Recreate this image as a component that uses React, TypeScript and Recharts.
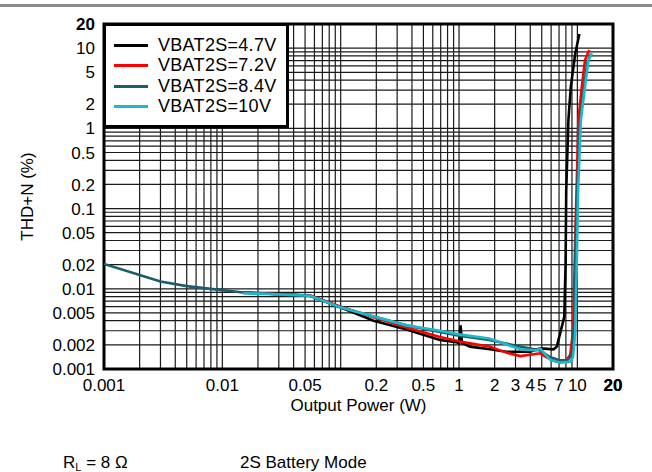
import React from 'react';
import { LineChart, Line, XAxis, YAxis, CartesianGrid, Legend, ReferenceArea } from 'recharts';

const FONT = '"Liberation Sans", Arial, Helvetica, sans-serif';

const seriesNames = ['VBAT2S=4.7V', 'VBAT2S=7.2V', 'VBAT2S=8.4V', 'VBAT2S=10V'];
const seriesColors = ['#000000', '#ff0000', '#1b5d6d', '#1bb9cc'];

// VBAT2S = 4.7 V
const power47 = [0.015, 0.055, 0.099, 0.19, 0.36, 0.69, 0.95, 1.0, 1.03, 1.06, 1.24, 1.83, 2.5, 4.0, 4.85, 6.3, 6.7, 7.4, 7.75, 7.95, 8.05, 8.4, 8.8, 9.6, 10.4];
const thd47 = [0.009, 0.0082, 0.0059, 0.004, 0.0031, 0.0023, 0.00215, 0.0021, 0.0035, 0.0021, 0.0019, 0.00176, 0.00164, 0.00164, 0.00181, 0.00176, 0.0019, 0.0034, 0.0045, 0.02, 0.17, 1.27, 3.3, 8.6, 15];

// VBAT2S = 7.2 V
const power72 = [0.015, 0.055, 0.099, 0.19, 0.36, 0.69, 1.02, 1.83, 2.5, 3.3, 4.85, 5.5, 6.7, 7.9, 8.7, 9.2, 9.4, 9.6, 9.8, 10.2, 10.9, 11.6, 12.6];
const thd72 = [0.0089, 0.0083, 0.006, 0.0044, 0.0033, 0.0025, 0.0022, 0.0019, 0.0016, 0.00145, 0.00157, 0.0014, 0.00123, 0.00123, 0.0015, 0.003, 0.01, 0.05, 0.13, 1.27, 3.3, 7.1, 9.5];

// VBAT2S = 8.4 V
const power84 = [0.001, 0.002, 0.003, 0.005, 0.0083, 0.015, 0.055, 0.099, 0.19, 0.36, 0.69, 1.0, 1.8, 3.3, 4.85, 5.9, 7.2, 8.2, 9.0, 9.4, 9.7, 10.0, 10.5, 11.3, 12.1, 13.0];
const thd84 = [0.0204, 0.0149, 0.0123, 0.0108, 0.0099, 0.009, 0.0082, 0.0059, 0.0045, 0.0035, 0.0029, 0.0026, 0.0023, 0.0019, 0.0017, 0.0014, 0.00128, 0.00128, 0.0015, 0.004, 0.05, 0.2, 1.2, 3.0, 6.5, 8.5];

// VBAT2S = 10 V
const power10 = [0.015, 0.02, 0.055, 0.099, 0.19, 0.36, 0.69, 1.0, 1.8, 3.3, 4.5, 4.85, 5.9, 7.2, 8.7, 9.2, 9.58, 9.9, 10.15, 10.7, 11.6, 12.4, 13.3];
const thd10 = [0.0088, 0.0087, 0.0082, 0.0059, 0.0045, 0.0035, 0.003, 0.0027, 0.0024, 0.00176, 0.0017, 0.0018, 0.0013, 0.0012, 0.00123, 0.00142, 0.0028, 0.023, 0.17, 1.27, 3.3, 7.1, 8.6];

const xTickLabels = [0.001, 0.01, 0.05, 0.2, 0.5, 1, 2, 3, 4, 5, 7, 10, 20];
const yTickLabels = [0.001, 0.002, 0.005, 0.01, 0.02, 0.05, 0.1, 0.2, 0.5, 1, 2, 5, 10, 20];
const decades = [0.001, 0.01, 0.1, 1, 10];
const multipliers = [1, 2, 3, 4, 5, 6, 7, 8, 9];
const MIN = 0.001;
const MAX = 20;

const gridValues = decades
  .flatMap((d) => multipliers.map((m) => Number((d * m).toPrecision(3))))
  .filter((v) => v <= MAX);

const zip = (p: number[], t: number[]) => p.map((v, i) => ({ p: v, thd: t[i] }));
const seriesData = [zip(power47, thd47), zip(power72, thd72), zip(power84, thd84), zip(power10, thd10)];

const isLabeled = (list: number[], v: number) => list.some((l) => Math.abs(l - v) / l < 1e-6);

const XTick = (props: any) => {
  const { x, y, payload } = props;
  const v = payload.value;
  if (!isLabeled(xTickLabels, v)) return null;
  return (
    <text x={x} y={y + 22} textAnchor="middle" fontSize={17} fontFamily={FONT} fill="#000" fontWeight={v === 20 ? 'bold' : 'normal'}>
      {String(v)}
    </text>
  );
};

const YTick = (props: any) => {
  const { x, y, payload } = props;
  const v = payload.value;
  if (!isLabeled(yTickLabels, v)) return null;
  return (
    <text x={x} y={y} dy="0.36em" textAnchor="end" fontSize={17} fontFamily={FONT} fill="#000" fontWeight={v === 20 ? 'bold' : 'normal'}>
      {String(v)}
    </text>
  );
};

const YTitle = (props: any) => {
  const vb = props.viewBox || { x: 0, y: 24, width: 104, height: 345 };
  const cx = vb.x + 27;
  const cy = vb.y + vb.height / 2;
  return (
    <text x={cx} y={cy} transform={`rotate(-90 ${cx} ${cy})`} textAnchor="middle" dominantBaseline="central" fontSize={17} fontFamily={FONT} fill="#000">
      THD+N (%)
    </text>
  );
};

const XTitle = (props: any) => {
  const vb = props.viewBox || { x: 104, y: 369, width: 509, height: 40 };
  return (
    <text x={vb.x + vb.width / 2} y={vb.y + 42} textAnchor="middle" fontSize={17} fontFamily={FONT} fill="#000">
      Output Power (W)
    </text>
  );
};

const LegendBox = () => (
  <div
    style={{
      position: 'relative',
      width: 180,
      height: 99,
      border: '3px solid #000',
      background: '#fff',
      fontFamily: FONT,
    }}
  >
    {seriesNames.map((name, i) => (
      <div key={name} style={{ position: 'absolute', left: 0, top: 9 + i * 20.4, height: 20, width: 180 }}>
        <div style={{ position: 'absolute', left: 8, top: 9, width: 34, height: 3, background: seriesColors[i] }} />
        <div style={{ position: 'absolute', left: 52, top: 0, lineHeight: '20px', fontSize: 18, letterSpacing: 0.3, color: '#000', whiteSpace: 'nowrap' }}>
          {name}
        </div>
      </div>
    ))}
  </div>
);

export default function App() {
  return (
    <div style={{ position: 'absolute', left: 0, top: 0, width: 652, height: 472, background: '#fff', overflow: 'hidden' }}>
      <div style={{ position: 'absolute', left: 0, top: 4, width: 652, height: 3, background: '#8a8a8a' }} />
      <LineChart width={652} height={472} margin={{ top: 24, right: 39, left: 0, bottom: 63 }}>
        <CartesianGrid stroke="#1a1a1a" strokeWidth={1.2} />
        <XAxis
          dataKey="p"
          type="number"
          scale="log"
          domain={[MIN, MAX]}
          ticks={gridValues.concat([MAX])}
          allowDataOverflow
          axisLine={false}
          tickLine={false}
          tickSize={0}
          tickMargin={0}
          height={40}
          interval={0}
          tick={<XTick />}
          label={{ content: XTitle } as any}
        />
        <YAxis
          type="number"
          scale="log"
          domain={[MIN, MAX]}
          ticks={gridValues}
          allowDataOverflow
          axisLine={false}
          tickLine={false}
          tickSize={0}
          tickMargin={9}
          width={104}
          interval={0}
          tick={<YTick />}
          label={{ content: YTitle } as any}
        />
        {seriesData.map((d, i) => (
          <Line
            key={seriesNames[i]}
            data={d}
            dataKey="thd"
            name={seriesNames[i]}
            stroke={seriesColors[i]}
            strokeWidth={2.6}
            dot={false}
            type="linear"
            isAnimationActive={false}
          />
        ))}
        <ReferenceArea x1={MIN} x2={MAX} y1={MIN} y2={MAX} fill="none" stroke="#000" strokeWidth={3} ifOverflow="visible" />
        <Legend
          layout="horizontal"
          verticalAlign="middle"
          align="center"
          content={() => <LegendBox />}
          wrapperStyle={{ left: 103, top: 23, width: 'auto', height: 'auto' }}
        />
      </LineChart>
      <div style={{ position: 'absolute', left: 63, top: 453, fontFamily: FONT, fontSize: 17, lineHeight: '20px', whiteSpace: 'nowrap' }}>
        R<sub style={{ fontSize: 11, verticalAlign: -3 }}>L</sub> = 8 Ω
      </div>
      <div style={{ position: 'absolute', left: 240, top: 453, fontFamily: FONT, fontSize: 17, lineHeight: '20px', whiteSpace: 'nowrap' }}>
        2S Battery Mode
      </div>
    </div>
  );
}
